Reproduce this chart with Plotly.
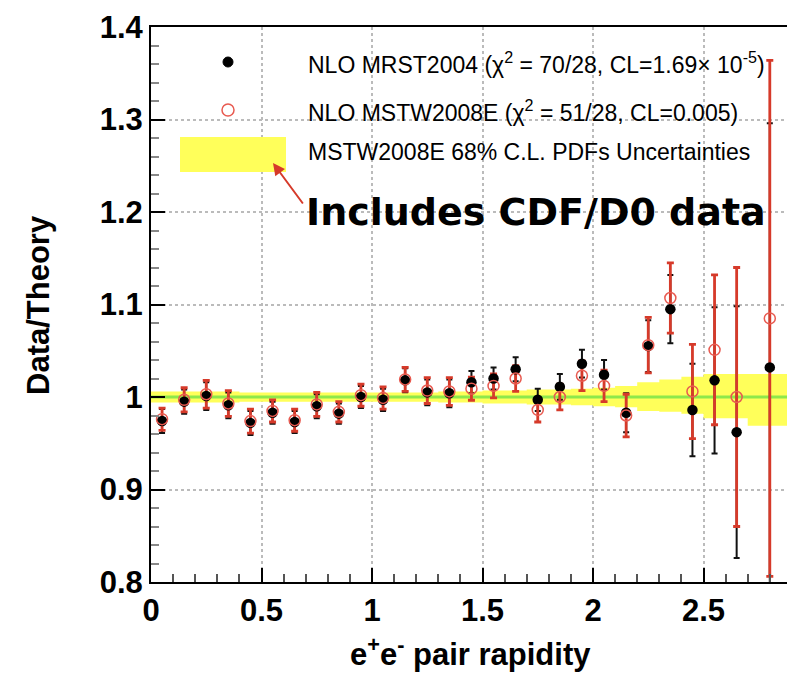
import plotly.graph_objects as go

# ---- data ----
rapidity = [0.05, 0.15, 0.25, 0.35, 0.45, 0.55, 0.65, 0.75, 0.85, 0.95,
            1.05, 1.15, 1.25, 1.35, 1.45, 1.55, 1.65, 1.75, 1.85, 1.95,
            2.05, 2.15, 2.25, 2.35, 2.45, 2.55, 2.65, 2.80]
mrst_ratio = [0.974, 0.995, 1.001, 0.991, 0.972, 0.983, 0.973, 0.990, 0.982, 1.000,
              0.997, 1.018, 1.005, 1.004, 1.016, 1.020, 1.030, 0.997, 1.011, 1.036,
              1.024, 0.983, 1.055, 1.095, 0.986, 1.018, 0.962, 1.032]
mrst_err = [0.013, 0.013, 0.015, 0.014, 0.013, 0.012, 0.012, 0.013, 0.011, 0.012,
            0.012, 0.013, 0.014, 0.015, 0.012, 0.012, 0.013, 0.012, 0.014, 0.015,
            0.016, 0.021, 0.028, 0.037, 0.050, 0.079, 0.136, 0.264]
mstw_ratio = [0.976, 0.997, 1.003, 0.993, 0.974, 0.985, 0.975, 0.992, 0.984, 1.002,
              0.999, 1.019, 1.007, 1.006, 1.009, 1.012, 1.020, 0.986, 1.000, 1.023,
              1.012, 0.980, 1.056, 1.107, 1.006, 1.051, 1.000, 1.085]
mstw_err = [0.012, 0.013, 0.015, 0.014, 0.013, 0.012, 0.012, 0.013, 0.011, 0.012,
            0.012, 0.013, 0.014, 0.015, 0.0125, 0.013, 0.014, 0.013, 0.014, 0.016,
            0.017, 0.023, 0.030, 0.038, 0.051, 0.081, 0.140, 0.279]

band_edges = [0.0, 0.1, 0.2, 0.3, 0.4, 0.5, 0.6, 0.7, 0.8, 0.9, 1.0, 1.1, 1.2, 1.3,
              1.4, 1.5, 1.6, 1.7, 1.8, 1.9, 2.0, 2.1, 2.2, 2.3, 2.4, 2.5, 2.6, 2.7, 2.9]
band_lo = [0.994, 0.994, 0.994, 0.994, 0.995, 0.995, 0.995, 0.995, 0.995, 0.995,
           0.995, 0.995, 0.995, 0.994, 0.994, 0.993, 0.993, 0.992, 0.992, 0.991,
           0.990, 0.989, 0.985, 0.984, 0.982, 0.977, 0.977, 0.969]
band_hi = [1.006, 1.006, 1.006, 1.006, 1.005, 1.005, 1.005, 1.005, 1.005, 1.005,
           1.005, 1.005, 1.005, 1.006, 1.006, 1.007, 1.007, 1.008, 1.008, 1.009,
           1.010, 1.012, 1.016, 1.019, 1.022, 1.025, 1.025, 1.025]

y_ticks = [0.8, 0.9, 1.0, 1.1, 1.2, 1.3, 1.4]
x_ticks = [0, 0.5, 1, 1.5, 2, 2.5]

legend_texts = [
    "NLO MRST2004 (\u03c7<sup>2</sup> = 70/28, CL=1.69\u00d7 10<sup>-5</sup>)",
    "NLO MSTW2008E (\u03c7<sup>2</sup> = 51/28, CL=0.005)",
    "MSTW2008E 68% C.L. PDFs Uncertainties",
]
note_text = "Includes CDF/D0 data"

# ---- layout geometry (pixels) ----
W, H = 787, 674
L, R, T, B = 151, 0, 27, 92
PW, PH = W - L - R, H - T - B
XMAX = PW / 221.0

def px(xp):
    return (xp - L) / PW

def py(yp):
    return (H - B - yp) / PH

RED = "#d63a2a"
RED_C = "#e85a50"
YEL = "#ffff5a"
GRN = "#8ee84a"

# band polygon built from the step arrays
bx, by = [], []
for i in range(len(band_hi)):
    bx += [band_edges[i], band_edges[i + 1]]
    by += [band_hi[i], band_hi[i]]
for i in reversed(range(len(band_lo))):
    bx += [band_edges[i + 1], band_edges[i]]
    by += [band_lo[i], band_lo[i]]

fig = go.Figure()
fig.add_trace(go.Scatter(x=bx, y=by, fill="toself", fillcolor=YEL, mode="none",
                         hoverinfo="skip", showlegend=False))
fig.add_trace(go.Scatter(x=[0, band_edges[-1]], y=[1, 1], mode="lines",
                         line=dict(color=GRN, width=3), showlegend=False))
# error bars
fig.add_trace(go.Scatter(x=rapidity, y=mrst_ratio, mode="markers",
                         marker=dict(size=1, opacity=0),
                         error_y=dict(type="data", array=mrst_err, color="#111111",
                                      thickness=2, width=3),
                         showlegend=False))
fig.add_trace(go.Scatter(x=rapidity, y=mstw_ratio, mode="markers",
                         marker=dict(size=1, opacity=0),
                         error_y=dict(type="data", array=mstw_err, color=RED,
                                      thickness=2.8, width=3.5),
                         showlegend=False))
# markers
fig.add_trace(go.Scatter(x=rapidity, y=mrst_ratio, mode="markers",
                         marker=dict(size=10.5, color="black", symbol="circle"),
                         showlegend=False))
fig.add_trace(go.Scatter(x=rapidity, y=mstw_ratio, mode="markers",
                         marker=dict(size=11, color=RED_C, symbol="circle-open",
                                     line=dict(color=RED_C, width=1.5)),
                         showlegend=False))

shapes = [
    dict(type="circle", xref="paper", yref="paper",
         x0=px(223), x1=px(233), y0=py(67), y1=py(57),
         fillcolor="black", line=dict(color="black", width=1)),
    dict(type="circle", xref="paper", yref="paper",
         x0=px(222), x1=px(234), y0=py(116), y1=py(104),
         fillcolor="rgba(0,0,0,0)", line=dict(color=RED_C, width=1.5)),
    dict(type="rect", xref="paper", yref="paper",
         x0=px(180), x1=px(286), y0=py(172), y1=py(137),
         fillcolor=YEL, line=dict(width=0)),
]

leg_font = dict(family="Liberation Sans", size=23, color="black")
annotations = []
for txt, yy in zip(legend_texts, [63, 111, 152]):
    annotations.append(dict(text=txt, xref="paper", yref="paper", x=px(306), y=py(yy),
                            xanchor="left", yanchor="middle", showarrow=False,
                            font=leg_font))
annotations.append(dict(text="<b>" + note_text + "</b>", xref="paper", yref="paper",
                        x=px(304), y=py(212), xanchor="left", yanchor="middle",
                        showarrow=False,
                        font=dict(family="DejaVu Sans", size=38, color="black")))
annotations.append(dict(text="", xref="paper", yref="paper", x=px(273), y=py(163),
                        ax=31, ay=42, showarrow=True, arrowhead=2, arrowsize=1.2,
                        arrowwidth=2, arrowcolor=RED))
annotations.append(dict(text="<b>Data/Theory</b>", xref="paper", yref="paper",
                        x=px(38), y=py(305), textangle=-90, showarrow=False,
                        xanchor="center", yanchor="middle",
                        font=dict(family="Liberation Sans", size=31, color="black")))
annotations.append(dict(text="<b>e<sup>+</sup>e<sup>-</sup> pair rapidity</b>",
                        xref="paper", yref="paper", x=px(470), y=py(652),
                        showarrow=False, xanchor="center", yanchor="middle",
                        font=dict(family="Liberation Sans", size=31, color="black")))

tickfont = dict(family="Liberation Sans", size=31, color="black", weight="bold")

fig.update_layout(
    width=W, height=H, margin=dict(l=L, r=R, t=T, b=B),
    paper_bgcolor="white", plot_bgcolor="white",
    shapes=shapes, annotations=annotations, showlegend=False,
    xaxis=dict(range=[0, XMAX], tickvals=x_ticks, ticks="inside", ticklen=14,
               tickwidth=2, tickcolor="black", tickfont=tickfont,
               showline=True, linecolor="black", linewidth=2, mirror=True,
               showgrid=True, gridcolor="#bbbbbb", griddash="3px,3px", gridwidth=2,
               zeroline=False,
               minor=dict(dtick=0.1, ticks="inside", ticklen=8, tickcolor="#555555",
                          showgrid=False)),
    yaxis=dict(range=[0.8, 1.4], tickvals=y_ticks, ticks="inside", ticklen=14,
               tickwidth=2, tickcolor="black", tickfont=tickfont,
               showline=True, linecolor="black", linewidth=2,
               showgrid=True, gridcolor="#bbbbbb", griddash="dot", gridwidth=1.5,
               zeroline=False,
               minor=dict(tickvals=[0.82, 0.84, 0.86, 0.88, 0.92, 0.94, 0.96, 0.98,
                                    1.02, 1.04, 1.06, 1.08, 1.12, 1.14, 1.16, 1.18,
                                    1.22, 1.24, 1.26, 1.28, 1.32, 1.34, 1.36, 1.38],
                          ticks="inside", ticklen=8, tickcolor="#888888",
                          showgrid=False)),
)

fig.write_html("out.html")
